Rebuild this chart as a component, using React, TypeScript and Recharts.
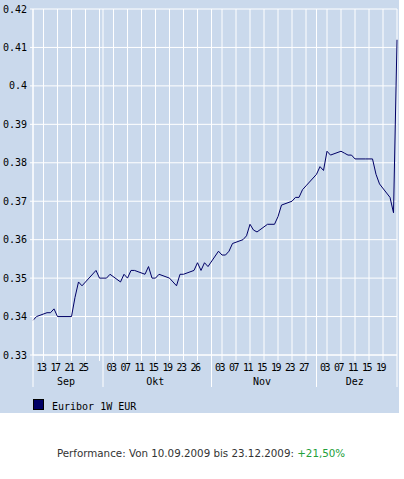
import { LineChart, Line, XAxis, YAxis, CartesianGrid } from "recharts";

// Euribor 1W EUR, daily fixings 10.09.2009 - 23.12.2009
const dates = [
  "2009-09-10", "2009-09-11", "2009-09-14", "2009-09-15", "2009-09-16", "2009-09-17", "2009-09-18",
  "2009-09-21", "2009-09-22", "2009-09-23", "2009-09-24", "2009-09-25", "2009-09-28", "2009-09-29",
  "2009-09-30", "2009-10-01", "2009-10-02", "2009-10-05", "2009-10-06", "2009-10-07", "2009-10-08",
  "2009-10-09", "2009-10-12", "2009-10-13", "2009-10-14", "2009-10-15", "2009-10-16", "2009-10-19",
  "2009-10-20", "2009-10-21", "2009-10-22", "2009-10-23", "2009-10-26", "2009-10-27", "2009-10-28",
  "2009-10-29", "2009-10-30", "2009-11-02", "2009-11-03", "2009-11-04", "2009-11-05", "2009-11-06",
  "2009-11-09", "2009-11-10", "2009-11-11", "2009-11-12", "2009-11-13", "2009-11-16", "2009-11-17",
  "2009-11-18", "2009-11-19", "2009-11-20", "2009-11-23", "2009-11-24", "2009-11-25", "2009-11-26",
  "2009-11-27", "2009-11-30", "2009-12-01", "2009-12-02", "2009-12-03", "2009-12-04", "2009-12-07",
  "2009-12-08", "2009-12-09", "2009-12-10", "2009-12-11", "2009-12-14", "2009-12-15", "2009-12-16",
  "2009-12-17", "2009-12-18", "2009-12-21", "2009-12-22", "2009-12-23",
];
const rates = [
  0.339, 0.34, 0.341, 0.341, 0.342, 0.34, 0.34,
  0.34, 0.345, 0.349, 0.348, 0.349, 0.352, 0.35,
  0.35, 0.35, 0.351, 0.349, 0.351, 0.35, 0.352,
  0.352, 0.351, 0.353, 0.35, 0.35, 0.351, 0.35,
  0.349, 0.348, 0.351, 0.351, 0.352, 0.354, 0.352,
  0.354, 0.353, 0.357, 0.356, 0.356, 0.357, 0.359,
  0.36, 0.361, 0.364, 0.3625, 0.362, 0.364, 0.364,
  0.364, 0.366, 0.369, 0.37, 0.371, 0.371, 0.373,
  0.374, 0.377, 0.379, 0.378, 0.383, 0.382, 0.383,
  0.3825, 0.382, 0.382, 0.381, 0.381, 0.381, 0.381,
  0.377, 0.3745, 0.371, 0.367, 0.412,
];

const gridDates = [
  "2009-09-13", "2009-09-17", "2009-09-21", "2009-09-25", "2009-09-29",
  "2009-10-03", "2009-10-07", "2009-10-11", "2009-10-15", "2009-10-19", "2009-10-23", "2009-10-27",
  "2009-11-03", "2009-11-07", "2009-11-11", "2009-11-15", "2009-11-19", "2009-11-23", "2009-11-27",
  "2009-12-03", "2009-12-07", "2009-12-11", "2009-12-15", "2009-12-19",
];
const gridLabels = [
  "13", "17", "21", "25", "",
  "03", "07", "11", "15", "19", "23", "26",
  "03", "07", "11", "15", "19", "23", "27",
  "03", "07", "11", "15", "19",
];
const monthEdges = ["2009-09-10", "2009-09-30", "2009-10-31", "2009-11-30", "2009-12-23"];
const monthNames = ["Sep", "Okt", "Nov", "Dez"];
const yTicks = [0.33, 0.34, 0.35, 0.36, 0.37, 0.38, 0.39, 0.4, 0.41, 0.42];

const START = Date.parse(dates[0]);
const dayOf = (s: string) => Math.round((Date.parse(s) - START) / 86400000);

const data = dates.map((s, i) => ({ d: dayOf(s), rate: rates[i] }));
const edgeDays = monthEdges.map(dayOf);
const labelByDay = new Map(gridDates.map((s, i) => [dayOf(s), gridLabels[i]]));
const dayTicks = [...gridDates.map(dayOf), ...edgeDays].sort((a, b) => a - b);
const monthTicks = monthNames.map((_, i) => (edgeDays[i] + edgeDays[i + 1]) / 2);

const MONO = "'DejaVu Sans Mono', monospace";
const BG = "#cad9ec";
const NAVY = "#000066";

function DayTick(props: any) {
  const { x, y, payload } = props;
  const v = payload.value;
  if (edgeDays.includes(v)) {
    return <line x1={x} x2={x} y1={y} y2={y + 32} stroke="#fff" />;
  }
  return (
    <g>
      <line x1={x} x2={x} y1={y} y2={y + 6} stroke="#fff" />
      <text x={x - 2.5} y={y + 12} textAnchor="middle" dominantBaseline="central"
        fontFamily={MONO} fontSize={10} letterSpacing={-1.5} fill="#000">
        {labelByDay.get(v)}
      </text>
    </g>
  );
}

function MonthTick(props: any) {
  const { x, y, index } = props;
  return (
    <text x={x - 2} y={y + 6.5} textAnchor="middle" dominantBaseline="central"
      fontFamily={MONO} fontSize={10} fill="#000">
      {monthNames[index]}
    </text>
  );
}

export default function App() {
  return (
    <div style={{ position: "absolute", left: 0, top: 0, width: 404, height: 479, background: "#fff" }}>
      <div style={{ position: "absolute", left: 0, top: 0, width: 399, height: 413, background: BG }}>
        <LineChart width={399} height={413} data={data} margin={{ top: 9, right: 2, left: 0, bottom: 0 }}>
          <CartesianGrid stroke="#fff" strokeWidth={1} />
          <XAxis
            dataKey="d"
            type="number"
            domain={[0, 104]}
            ticks={dayTicks}
            interval={0}
            height={20}
            tickSize={0}
            tickMargin={0}
            tickLine={false}
            axisLine={{ stroke: "#fff" }}
            tick={<DayTick />}
          />
          <XAxis
            xAxisId="month"
            dataKey="d"
            type="number"
            domain={[0, 104]}
            ticks={monthTicks}
            interval={0}
            height={38}
            tickSize={0}
            tickMargin={0}
            tickLine={false}
            axisLine={false}
            tick={<MonthTick />}
          />
          <YAxis
            type="number"
            domain={[0.33, 0.42]}
            ticks={yTicks}
            interval={0}
            width={33}
            tickSize={3}
            tickMargin={3}
            axisLine={{ stroke: "#fff" }}
            tickLine={{ stroke: "#fff" }}
            tick={{ fontFamily: MONO, fontSize: 10, fill: "#000" }}
            tickFormatter={(v: number) => String(v)}
          />
          <Line
            type="linear"
            dataKey="rate"
            stroke={NAVY}
            strokeWidth={1}
            dot={false}
            isAnimationActive={false}
          />
        </LineChart>
        <div style={{ position: "absolute", left: 33, top: 399, width: 9, height: 9, background: NAVY, border: "1px solid #000" }} />
        <div style={{ position: "absolute", left: 52, top: 400, fontFamily: MONO, fontSize: 10, lineHeight: "14px", color: "#000" }}>
          Euribor 1W EUR
        </div>
      </div>
      <div style={{ position: "absolute", left: 0, top: 445, width: 402, textAlign: "center", fontFamily: "'DejaVu Sans', sans-serif", fontSize: 10.3, lineHeight: "16px", color: "#333" }}>
        Performance: Von 10.09.2009 bis 23.12.2009: <span style={{ color: "#22a03a" }}>+21,50%</span>
      </div>
    </div>
  );
}
